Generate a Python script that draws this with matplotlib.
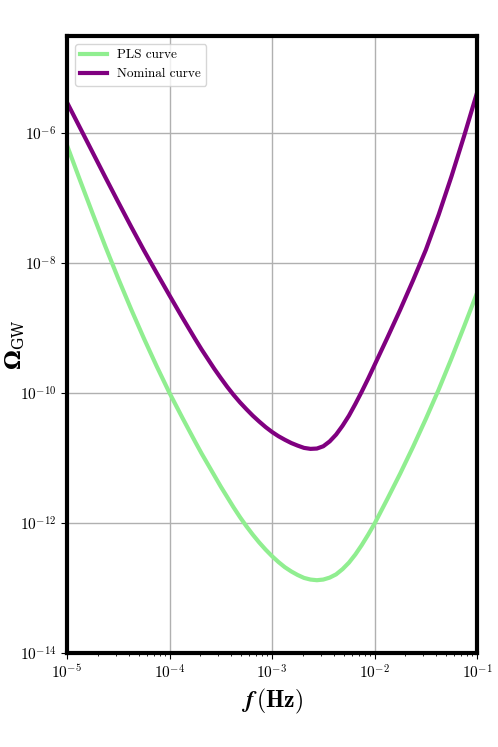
import numpy as np
import matplotlib
matplotlib.use('Agg')
import matplotlib.pyplot as plt
from matplotlib.ticker import LogLocator, NullLocator

plt.rcParams['mathtext.fontset'] = 'cm'
plt.rcParams['font.family'] = 'serif'
plt.rcParams['font.serif'] = ['cmr10', 'DejaVu Serif']
plt.rcParams['axes.formatter.use_mathtext'] = True
plt.rcParams['axes.unicode_minus'] = False

# log10 of frequency (Hz)
log_f = [-5.0, -4.875, -4.75, -4.625, -4.5, -4.375, -4.25, -4.125, -4.0,
         -3.875, -3.75, -3.6875, -3.625, -3.5625, -3.5, -3.4375, -3.375,
         -3.3125, -3.25, -3.1875, -3.125, -3.0625, -3.0, -2.9375, -2.875,
         -2.8125, -2.75, -2.6875, -2.625, -2.5625, -2.5, -2.4375, -2.375,
         -2.3125, -2.25, -2.1875, -2.125, -2.0625, -2.0,
         -1.875, -1.75, -1.625, -1.5, -1.375, -1.25, -1.125, -1.0]

# log10 of Omega_GW
log_pls = [-6.19, -6.72, -7.24, -7.75, -8.24, -8.71, -9.16, -9.59, -10.0,
           -10.38, -10.75, -10.93, -11.10, -11.27, -11.44, -11.60, -11.76,
           -11.91, -12.05, -12.18, -12.30, -12.41, -12.51, -12.60, -12.68,
           -12.745, -12.80, -12.845, -12.87, -12.88, -12.87, -12.84, -12.79,
           -12.71, -12.61, -12.485, -12.34, -12.18, -12.01,
           -11.63, -11.24, -10.83, -10.40, -9.95, -9.47, -8.97, -8.46]

log_nom = [-5.53, -5.915, -6.30, -6.685, -7.065, -7.44, -7.805, -8.155, -8.50,
           -8.84, -9.17, -9.33, -9.48, -9.63, -9.77, -9.905, -10.03,
           -10.145, -10.25, -10.35, -10.44, -10.525, -10.60, -10.665, -10.72,
           -10.77, -10.81, -10.845, -10.86, -10.855, -10.82, -10.745, -10.64,
           -10.505, -10.35, -10.17, -9.98, -9.78, -9.57,
           -9.15, -8.72, -8.27, -7.80, -7.26, -6.67, -6.04, -5.38]

yticks = [1e-14, 1e-12, 1e-10, 1e-8, 1e-6]

f = 10.0**np.array(log_f)
pls = 10.0**np.array(log_pls)
nom = 10.0**np.array(log_nom)

fig = plt.figure(figsize=(4.98, 7.47), dpi=100)
ax = fig.add_axes([0.1345, 0.1258, 0.8235, 0.826])

ax.plot(f, pls, color='#90EE90', lw=3, label='PLS curve', solid_joinstyle='round')
ax.plot(f, nom, color='#800080', lw=3, label='Nominal curve', solid_joinstyle='round')

ax.set_xscale('log')
ax.set_yscale('log')
ax.set_xlim(1e-5, 1e-1)
ax.set_ylim(1e-14, 10**-4.51)
ax.set_yticks(yticks)
ax.yaxis.set_minor_locator(NullLocator())
ax.xaxis.set_minor_locator(LogLocator(base=10, subs=np.arange(2, 10), numticks=20))

ax.grid(True, which='major', color='#b0b0b0', lw=1)
ax.tick_params(axis='both', which='major', labelsize=11, length=4, width=0.8)
ax.tick_params(axis='x', which='minor', length=2.5, width=0.6)

for s in ax.spines.values():
    s.set_linewidth(3)
    s.set_color('black')

ax.set_xlabel(r'$\mathbfit{f}\,\mathbf{(Hz)}$', fontsize=17, labelpad=4)
ax.set_ylabel(r'$\mathbf{\Omega}_{\mathrm{GW}}$', fontsize=16,
              math_fontfamily='dejavuserif')
ax.yaxis.set_label_coords(-0.097, 0.5)

ax.legend(loc='upper left', fontsize=9.5, framealpha=0.8, borderaxespad=0.6)

fig.savefig('out.png', dpi=100)
